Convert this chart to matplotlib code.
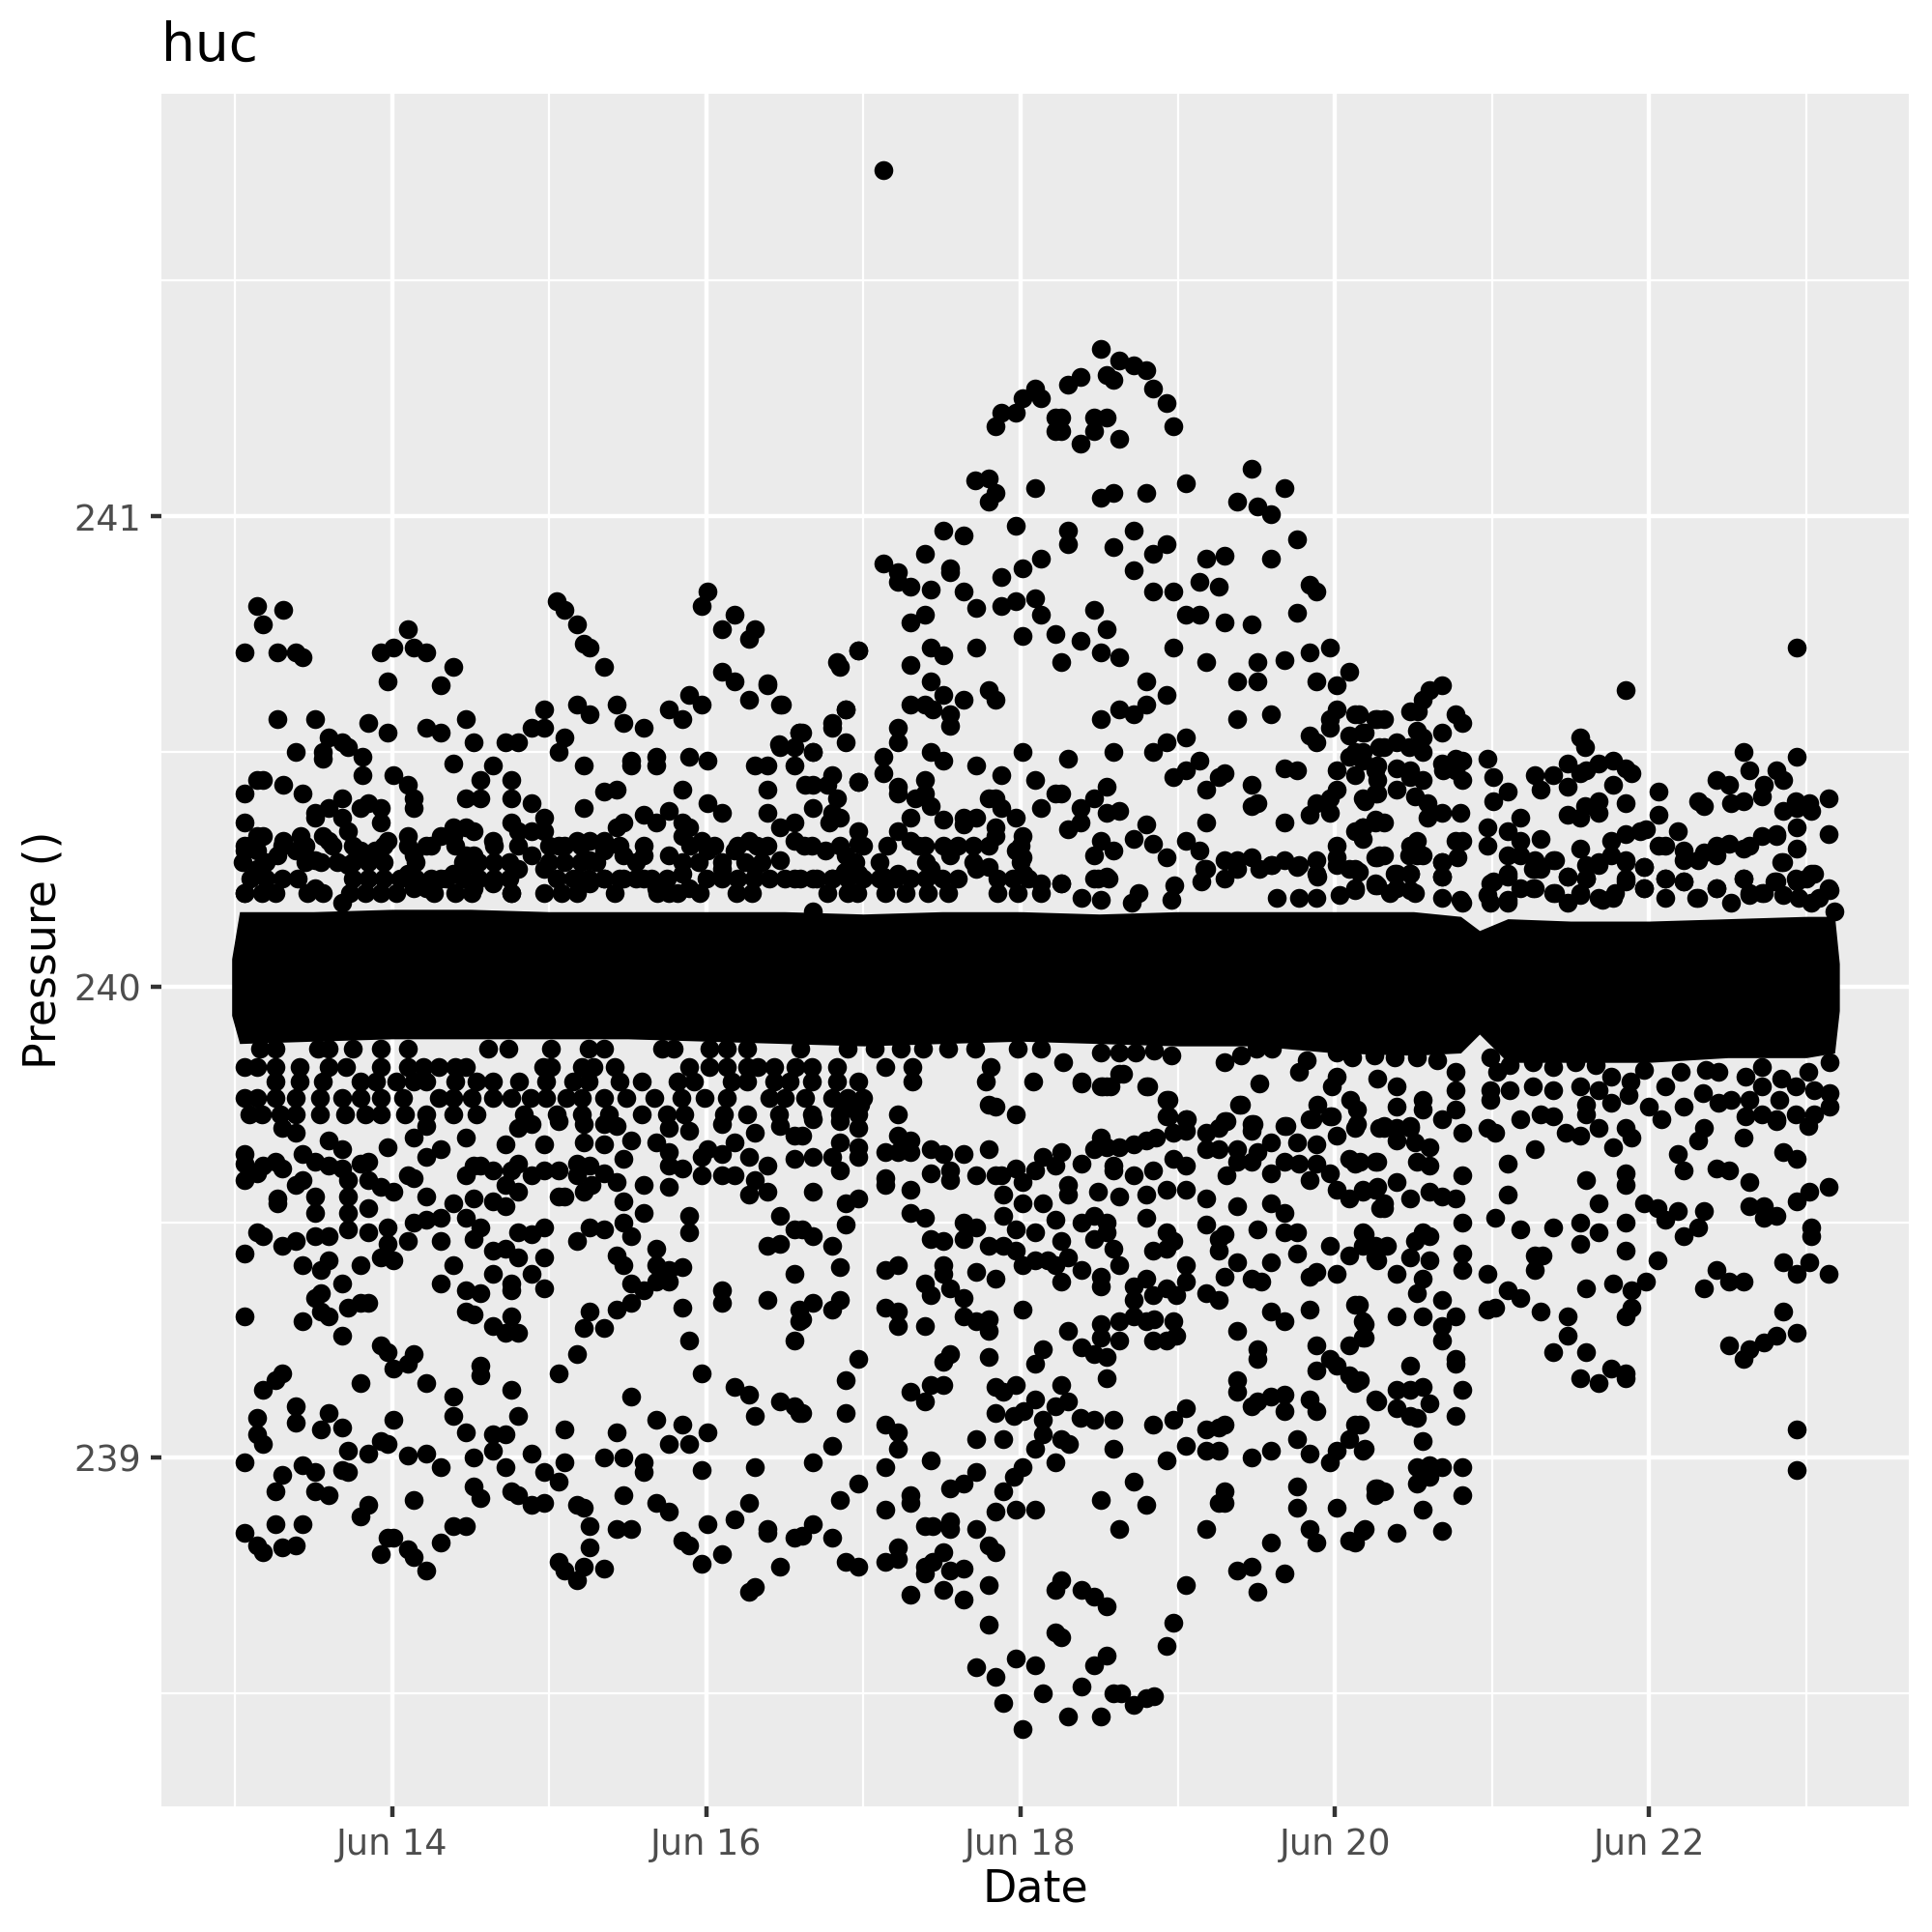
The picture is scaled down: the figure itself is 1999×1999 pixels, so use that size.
import numpy as np
from matplotlib import pyplot as plt

# values: (day of June, pressure)
upper_left = [(13.14,240.81),(13.31,240.80),(13.18,240.77),(13.06,240.71),(13.27,240.71),(13.39,240.71),(13.43,240.70),(14.10,240.76),(13.93,240.71),(14.01,240.72),(14.14,240.72),(14.22,240.71),(14.39,240.68),(13.97,240.65),(14.31,240.64),
(15.05,240.82),(15.10,240.80),(15.18,240.77),(15.22,240.73),(15.26,240.72),(15.35,240.68),(16.01,240.84),(15.97,240.81),(16.18,240.79),(16.10,240.76),(16.31,240.76),(16.27,240.74),(16.10,240.67),(16.18,240.65),(16.39,240.64),(16.27,240.61),(16.47,240.60),
(13.27,240.57),(13.51,240.57),(13.85,240.56),(13.97,240.54),(13.60,240.53),(13.68,240.52),(13.39,240.50),(13.72,240.51),(13.81,240.49),(13.56,240.50),(13.56,240.485),(14.22,240.55),(14.31,240.54),(14.47,240.57),(14.52,240.52),(14.72,240.52),(14.80,240.52),(14.89,240.55),(14.97,240.59),(14.97,240.55),(15.10,240.53),(15.06,240.50),
(15.18,240.60),(15.26,240.58),(15.43,240.60),(15.47,240.56),(15.60,240.55),(15.76,240.59),(15.85,240.57),(15.89,240.62),(15.97,240.60),(15.52,240.48),(15.52,240.47),(15.68,240.49),(15.68,240.47),(15.89,240.49),(16.01,240.48),(15.22,240.47),(16.31,240.47),(16.47,240.51),(16.56,240.51),(16.59,240.54),(16.56,240.47),(16.39,240.42),(15.85,240.42),(15.43,240.42),(15.35,240.415),(15.22,240.38),(16.01,240.39),(16.10,240.37),(16.39,240.37),
(14.39,240.475),(14.64,240.47),(14.56,240.44),(14.76,240.44),(14.01,240.45),(14.10,240.43),(13.81,240.45),(13.14,240.44),(13.18,240.44),(13.31,240.43),(13.43,240.41),(13.06,240.41),(14.14,240.40),(14.14,240.38),(14.47,240.40),(14.56,240.40),(14.89,240.39),(14.76,240.40),(13.06,240.35),
(13.68,240.40),(13.85,240.39),(13.93,240.38),(13.80,240.38),(13.60,240.38),(13.51,240.37),(13.51,240.36),(13.68,240.36),(13.72,240.33),(13.93,240.35),(13.42,240.32),(13.18,240.32),(13.14,240.32),(13.06,240.29),(13.14,240.29),(13.31,240.31),(13.27,240.28),(13.39,240.29),(13.51,240.27),(13.60,240.31),(13.56,240.32),(13.80,240.29),(13.89,240.29),(13.72,240.26),(13.97,240.31),(14.10,240.32),(14.22,240.30),(14.14,240.28),(14.31,240.32),(14.39,240.34),(14.47,240.34),(14.52,240.33),(14.39,240.32),(14.47,240.28),(14.52,240.28),(14.64,240.31),(14.76,240.35),(14.80,240.33),(14.89,240.33),(14.97,240.36),(14.97,240.33),(14.89,240.28),(15.06,240.30),(15.18,240.31),(15.26,240.31),(15.35,240.31),(15.47,240.35),(15.43,240.34),(15.60,240.365),(15.68,240.35),(15.76,240.375),(15.85,240.35),(15.89,240.34),(15.85,240.32),(15.97,240.31),(16.01,240.29),(15.76,240.28),(16.18,240.29),(16.27,240.31),(16.39,240.30),(16.47,240.27),(16.47,240.34),(16.56,240.35),(16.56,240.31),(14.97,240.25),(14.97,240.20),(15.26,240.27),(15.35,240.29),(15.47,240.28),(15.60,240.28),
(13.06,240.20),(13.14,240.25),(13.51,240.21),(13.56,240.20),(13.68,240.18),(14.10,240.24),(14.39,240.24),(14.31,240.23),(14.22,240.21),(14.14,240.21),(14.52,240.26),(14.52,240.21),(14.64,240.22),(14.80,240.25),(14.76,240.20),(15.35,240.23),(15.47,240.23),(15.60,240.23),(15.68,240.21),(15.76,240.20),(15.85,240.24),(15.89,240.21),(15.18,240.23),(15.26,240.22),(16.10,240.25),(16.31,240.255),(16.56,240.23),
(16.46,240.515),(16.39,240.645),(16.48,240.60),(16.83,240.69),(16.97,240.715),(16.89,240.59),(16.80,240.56),(16.59,240.54),(16.68,240.50),(16.97,240.435),(16.63,240.43),(16.77,240.43),(16.39,240.47),(16.83,240.40)]

upper_middle = [(17.13,241.735),(18.51,241.355),(18.63,241.33),(18.72,241.32),(18.80,241.31),(18.55,241.30),(18.59,241.29),(18.38,241.295),(18.30,241.28),(18.84,241.27),(18.93,241.24),(18.97,241.19),(18.09,241.27),(18.01,241.25),(18.13,241.25),(17.97,241.22),(17.88,241.22),(17.84,241.19),(18.22,241.21),(18.26,241.21),(18.22,241.18),(18.26,241.18),(18.47,241.21),(18.55,241.21),(18.47,241.18),(18.38,241.155),(18.63,241.165),
(19.05,241.07),(19.47,241.10),(19.68,241.06),(19.38,241.03),(19.51,241.02),(19.59,241.005),(17.71,241.075),(17.80,241.08),(17.84,241.05),(17.80,241.03),(18.09,241.06),(18.51,241.04),(18.59,241.05),(18.80,241.05),(17.97,240.98),(18.30,240.97),(18.30,240.94),(18.72,240.97),(18.59,240.935),(18.93,240.94),(18.84,240.92),(17.51,240.97),(17.64,240.96),(17.39,240.92),(17.13,240.90),(17.22,240.88),(17.22,240.86),(17.30,240.85),(17.43,240.845),(17.55,240.89),(17.55,240.88),(17.64,240.84),(17.72,240.805),(17.88,240.87),(18.01,240.89),(18.13,240.91),(18.72,240.885),(17.88,240.81),(17.97,240.82),(18.09,240.825),(18.13,240.79),(18.84,240.84),(18.97,240.84),(19.18,240.91),(19.30,240.915),(19.14,240.86),(19.26,240.85),(19.59,240.91),(19.76,240.95),(19.84,240.855),(19.88,240.84),(19.76,240.795),(19.05,240.79),(19.14,240.79),(19.30,240.775),(19.47,240.77),(18.47,240.80),(18.55,240.76),(17.39,240.79),(17.30,240.775),(18.01,240.745),(18.22,240.75),(18.38,240.735),(18.51,240.71),(18.63,240.70),(18.26,240.69),(17.72,240.72),(18.97,240.72),(17.43,240.72),(17.51,240.705),(17.30,240.685),(16.97,240.715),(16.85,240.68),(19.18,240.69),(19.51,240.69),(19.68,240.695),(19.84,240.71),(19.97,240.72),(19.38,240.65),(19.51,240.65),(19.88,240.65),(20.01,240.64),(20.09,240.67),(18.80,240.65),(18.93,240.62),(18.80,240.60),(18.63,240.59),(18.72,240.58),(18.51,240.57),
(17.43,240.65),(17.51,240.62),(17.64,240.61),(17.30,240.60),(17.39,240.60),(17.44,240.59),(17.55,240.58),(17.55,240.555),(17.80,240.63),(17.84,240.61),(16.89,240.59),(16.80,240.55),(16.89,240.52),(17.22,240.55),(17.22,240.52),(19.38,240.57),(19.59,240.58),(20.01,240.59),(19.97,240.57),(19.97,240.55),(19.84,240.535),(19.88,240.52),(20.13,240.58),(20.26,240.57),(19.05,240.53),(18.93,240.52),(18.84,240.50),(18.59,240.50),(18.01,240.50),(18.30,240.485),(17.43,240.50),(17.51,240.48),(17.72,240.47),(17.13,240.49),(17.13,240.455),(16.68,240.50),(16.61,240.54),
(19.14,240.48),(19.05,240.46),(18.97,240.445),(19.30,240.455),(19.26,240.445),(19.18,240.42),(19.68,240.465),(19.76,240.46),(19.47,240.43),(19.51,240.39),(19.47,240.385),(19.68,240.35),(19.18,240.35),(17.88,240.45),(18.09,240.44),(16.97,240.435),(16.80,240.45),(16.68,240.43),(17.39,240.44),(17.22,240.425),(17.22,240.41),(17.33,240.40),(17.39,240.41),(17.43,240.385),(18.22,240.41),(18.26,240.41),(18.55,240.425),(18.47,240.40),(18.38,240.38),(18.55,240.37),(18.63,240.375),(18.13,240.38),(18.38,240.35),(18.30,240.335),(18.80,240.345),(18.72,240.315),(18.84,240.305),(18.93,240.275),(19.05,240.31),(19.14,240.29),(18.51,240.31),(18.59,240.29),(18.47,240.28),
(17.80,240.40),(17.84,240.40),(17.88,240.38),(17.97,240.36),(17.64,240.36),(17.72,240.36),(17.64,240.345),(17.51,240.355),(17.30,240.36),(17.22,240.33),(17.30,240.31),(17.39,240.30),(17.51,240.30),(17.55,240.28),(17.84,240.34),(17.84,240.32),(17.80,240.30),(18.01,240.32),(17.97,240.29),(18.01,240.275),(17.80,240.255),(17.72,240.25),(17.43,240.25),(17.22,240.24),(17.13,240.235),(18.02,240.24),(18.13,240.22),(18.26,240.22),(18.47,240.23),(18.55,240.235),(19.30,240.27),(19.38,240.27),(19.47,240.275),(19.18,240.25),(19.59,240.26),(19.68,240.27),(19.76,240.255),(19.88,240.27),(20.01,240.275),(19.88,240.24),(20.09,240.25),(20.13,240.205),(20.01,240.30),(20.13,240.33),(20.18,240.34),(20.26,240.35),(20.26,240.275),(20.26,240.215),
(20.09,240.535),(20.18,240.54),(20.13,240.50),(20.09,240.49),(20.18,240.48),(20.28,240.51),(20.01,240.46),(20.13,240.45),(20.26,240.46),(20.01,240.42),(19.97,240.40),(19.88,240.39),(19.84,240.365),(19.97,240.37),(20.18,240.40),(20.26,240.41),(16.68,240.38),(16.80,240.37),(16.78,240.35),(16.85,240.36),(16.97,240.33),(16.97,240.305),(16.89,240.28),(16.76,240.29),(16.67,240.30),(16.88,240.245),(16.97,240.24),(16.68,240.23),(16.80,240.23),(16.96,240.20),(16.68,240.16)]

upper_right = [(22.94,240.72),(21.85,240.63),(20.68,240.64),(20.60,240.63),(20.56,240.61),(20.48,240.585),(20.53,240.585),(20.77,240.58),(20.81,240.56),(20.68,240.54),(20.15,240.58),(20.27,240.57),(20.31,240.57),(20.52,240.545),(20.56,240.53),(20.19,240.54),(20.31,240.51),(20.39,240.52),(20.47,240.51),(20.56,240.50),(20.18,240.50),(21.56,240.53),(21.59,240.51),(22.60,240.50),(22.94,240.49),(20.97,240.485),(20.77,240.485),(20.81,240.48),(20.68,240.475),(20.69,240.46),(20.77,240.46),(20.81,240.44),(20.39,240.465),(20.48,240.46),(20.27,240.47),(20.27,240.44),(20.48,240.445),(20.56,240.44),
(21.01,240.445),(21.10,240.415),(21.01,240.395),(21.27,240.45),(21.31,240.42),(21.39,240.45),(21.48,240.475),(21.48,240.425),(21.56,240.455),(21.60,240.46),(21.68,240.475),(21.77,240.48),(21.85,240.465),(21.89,240.455),(21.77,240.43),(21.85,240.39),(22.06,240.415),(22.06,240.365),(22.43,240.44),(22.51,240.43),(22.64,240.46),(22.73,240.43),(22.81,240.46),(22.85,240.44),(22.72,240.405),(22.31,240.395),(22.35,240.385),(22.52,240.39),(22.60,240.395),(22.93,240.395),(23.02,240.39),(23.14,240.40),(22.85,240.375),(22.94,240.38),(23.03,240.375),(22.94,240.34),(23.14,240.325),(22.94,240.295),(22.85,240.265),
(20.39,240.42),(20.51,240.405),(20.59,240.39),(20.59,240.36),(20.68,240.37),(20.80,240.37),(20.19,240.395),(20.27,240.41),(20.18,240.34),(20.26,240.355),(20.31,240.35),(20.18,240.315),(20.48,240.30),(20.52,240.31),(20.47,240.28),(20.56,240.28),(20.27,240.275),(20.31,240.28),(20.77,240.31),(20.81,240.31),(20.78,240.275),(20.68,240.265),(20.68,240.235),(20.15,240.245),(20.39,240.24),(20.48,240.24),(20.27,240.215),(20.39,240.21),(20.51,240.20),(20.68,240.19),(20.81,240.18),
(20.97,240.34),(20.97,240.30),(21.10,240.33),(21.18,240.36),(21.18,240.31),(21.31,240.315),(21.10,240.28),(21.18,240.28),(21.27,240.27),(21.39,240.27),(21.27,240.25),(21.31,240.25),(21.48,240.235),(21.48,240.365),(21.56,240.36),(21.59,240.385),(21.68,240.395),(21.68,240.37),(21.56,240.295),(21.60,240.26),(21.76,240.31),(21.85,240.325),(21.94,240.33),(21.98,240.335),(21.68,240.265),(21.76,240.28),(21.85,240.27),(21.97,240.255),(21.60,240.23),(21.85,240.225),(22.06,240.30),(22.10,240.30),(22.18,240.33),(22.22,240.29),(22.22,240.27),(22.31,240.27),(22.35,240.285),(22.43,240.30),(22.43,240.28),(22.51,240.305),(22.60,240.295),(22.64,240.30),(22.72,240.32),(22.81,240.325),(22.81,240.32),
(22.10,240.23),(22.22,240.225),(22.60,240.23),(22.43,240.21),(21.97,240.21),(21.01,240.225),(21.10,240.235),(20.97,240.195),(21.10,240.18),(21.18,240.21),(21.27,240.21),(21.39,240.20),(21.48,240.18),(21.56,240.195),(21.68,240.19),(21.77,240.19),(22.31,240.19),(22.64,240.195),(22.73,240.20),(22.81,240.225),(22.94,240.225),(23.03,240.24),(23.00,240.23),(23.14,240.21),(22.85,240.195),(23.03,240.18),(23.18,240.16)]

lower_left = [(13.06,239.30),(13.43,239.29),(13.06,239.435),(13.14,239.48),(13.18,239.47),(13.30,239.45),(13.39,239.46),(13.43,239.41),(13.60,239.42),(13.55,239.40),(13.80,239.41),(13.68,239.37),(13.55,239.35),(13.51,239.34),(13.55,239.31),(13.60,239.30),(13.72,239.32),(13.80,239.33),(13.85,239.33),(13.68,239.26),(13.93,239.24),(13.97,239.225),(14.14,239.22),(14.10,239.20),(14.01,239.19),(13.80,239.16),(13.30,239.18),(13.26,239.165),(13.18,239.145),(13.39,239.11),(13.39,239.075),(13.14,239.085),(13.14,239.05),(13.18,239.03),(13.60,239.095),(13.55,239.06),(13.68,239.065),(14.01,239.08),(13.93,239.035),(13.97,239.03),(13.72,239.015),(13.85,239.01),(14.10,239.005),(14.22,239.01),(14.31,238.98),(13.06,238.99),(13.43,238.985),(13.51,238.97),(13.30,238.965),(13.26,238.93),(13.68,238.975),(13.72,238.97),(13.51,238.93),(13.60,238.92),(13.85,238.90),(13.80,238.875),(14.14,238.91),
(14.22,239.16),(14.39,239.13),(14.39,239.09),(14.56,239.195),(14.56,239.175),(14.76,239.145),(14.80,239.09),(14.47,239.055),(14.64,239.05),(14.72,239.05),(14.64,239.015),(14.52,239.00),(14.89,239.01),(14.72,238.98),(14.97,238.97),(15.06,238.95),(15.10,239.06),(15.10,238.99),(15.06,239.18),(15.18,239.22),(14.52,238.94),(14.56,238.915),(14.76,238.93),(14.80,238.92),(14.89,238.90),(14.97,238.905),(15.18,238.90),(15.22,238.895),(13.26,238.86),(13.43,238.86),(13.06,238.84),(13.14,238.815),(13.18,238.80),(13.30,238.81),(13.39,238.815),(13.97,238.83),(14.01,238.83),(13.93,238.795),(14.10,238.805),(14.14,238.79),(14.22,238.76),(14.31,238.82),(14.39,238.855),(14.47,238.855),(15.06,238.78),(15.10,238.76),(15.18,238.74),(15.22,238.77),(15.35,238.765),(15.26,238.81),(15.26,238.855),(15.43,238.85),(15.52,238.85),(15.47,238.92),(15.35,239.00),(15.47,239.00),(15.60,238.99),(15.60,238.97),(15.68,238.905),(15.76,238.885),(15.43,239.055),(15.52,239.13),(15.68,239.08),(15.85,239.07),(15.76,239.03),(15.89,239.03),(16.01,239.055),(15.97,238.975),(15.97,239.18),(16.18,239.15),(16.27,239.135),(16.31,239.09),(16.31,238.98),(16.47,239.12),(16.56,239.11),(16.59,239.095),(16.27,238.905),(16.18,238.87),(16.01,238.86),(15.85,238.825),(15.89,238.815),(16.10,238.795),(15.97,238.775),(16.39,238.85),(16.39,238.84),(16.47,238.77),(16.56,238.83),(16.31,238.725),(16.27,238.715),
(13.97,239.49),(13.85,239.48),(13.72,239.485),(13.51,239.47),(13.60,239.47),(13.97,239.455),(14.10,239.46),(14.31,239.46),(13.93,239.425),(14.01,239.42),(14.39,239.41),(14.31,239.37),(14.14,239.50),(14.22,239.505),(14.31,239.51),(14.47,239.51),(14.56,239.49),(14.52,239.465),(14.64,239.44),(14.72,239.445),(14.80,239.425),(14.97,239.425),(14.80,239.48),(14.89,239.475),(14.97,239.49),(14.64,239.39),(14.76,239.37),(14.76,239.355),(14.89,239.39),(14.97,239.36),(14.47,239.355),(14.56,239.35),(14.47,239.31),(14.52,239.305),(14.64,239.28),(14.76,239.30),(14.72,239.265),(14.80,239.265),(15.26,239.31),(15.22,239.275),(15.35,239.275),(15.18,239.46),(15.26,239.49),(15.35,239.485),(15.47,239.50),(15.52,239.47),(15.43,239.43),(15.47,239.41),(15.68,239.445),(15.68,239.41),(15.76,239.40),(15.85,239.405),(15.76,239.375),(15.68,239.375),(15.52,239.37),(15.60,239.355),(15.52,239.33),(15.43,239.315),(15.85,239.32),(15.89,239.25),(16.10,239.355),(16.10,239.33),(16.39,239.335),(16.56,239.39),(16.59,239.315),(16.59,239.29),(16.56,239.25),(15.89,239.515),(15.89,239.48),(15.60,239.52),(16.47,239.515),(16.56,239.485),(16.39,239.45),(16.47,239.455),
(13.06,239.645),(13.06,239.625),(13.06,239.59),(13.18,239.62),(13.26,239.63),(13.30,239.615),(13.14,239.605),(13.39,239.58),(13.43,239.59),(13.43,239.645),(13.51,239.63),(13.60,239.675),(13.68,239.655),(13.60,239.62),(13.68,239.615),(13.72,239.59),(13.80,239.625),(13.85,239.63),(13.85,239.59),(13.93,239.575),(14.01,239.565),(14.22,239.64),(14.31,239.655),(14.10,239.60),(14.14,239.595),(14.22,239.555),(13.27,239.55),(13.27,239.54),(13.51,239.555),(13.51,239.52),(13.72,239.555),(13.72,239.52),(13.85,239.53),(14.39,239.54),(14.52,239.55),(14.64,239.545),(14.72,239.535),(14.80,239.565),(14.72,239.58),(14.47,239.60),(14.52,239.62),(14.56,239.62),(14.64,239.61),(14.76,239.61),(14.80,239.625),(14.89,239.60),(14.97,239.61),(15.06,239.61),(15.18,239.625),(15.26,239.62),(15.35,239.605),(15.43,239.585),(15.47,239.545),(15.06,239.555),(15.10,239.555),(15.22,239.565),(15.27,239.58),(15.18,239.60),(15.60,239.58),(15.76,239.575),
(13.97,239.66),(14.14,239.68),(14.47,239.68),(14.72,239.665),(14.97,239.665),(15.22,239.67),(15.35,239.665),(15.47,239.635),(15.52,239.675),(15.68,239.67),(15.76,239.65),(15.76,239.62),(15.85,239.615),(16.01,239.655),(15.97,239.64),(16.10,239.645),(15.97,239.60),(16.10,239.60),(16.18,239.60),(16.18,239.67),(16.27,239.64),(16.39,239.62),(16.31,239.59),(16.27,239.56),(16.39,239.565),(16.56,239.635),(16.56,239.685),(13.30,239.70),(13.39,239.69),(14.22,239.705),(14.80,239.70),(14.89,239.71),(15.06,239.715),(15.22,239.71),(15.35,239.71),(15.43,239.705),(15.76,239.70),(15.89,239.695),(16.10,239.71),(16.31,239.69),(16.47,239.705)]

lower_middle = [(18.01,238.425),(18.30,238.45),(18.51,238.45),(17.89,238.48),(18.14,238.50),(18.39,238.515),(18.59,238.50),(18.64,238.50),(18.72,238.475),(18.80,238.49),(18.85,238.495),(17.72,238.555),(17.84,238.535),(17.97,238.575),(18.09,238.56),(18.47,238.56),(18.55,238.58),(18.93,238.60),(18.97,238.65),(17.80,238.645),(18.22,238.63),(18.26,238.62),(18.22,238.72),(18.26,238.74),(18.39,238.72),(18.47,238.705),(18.55,238.685),(19.05,238.73),(17.30,238.71),(17.51,238.72),(17.64,238.70),(17.80,238.73),(16.89,238.78),(16.97,238.77),(17.14,238.78),(17.22,238.785),(17.22,238.81),(17.39,238.77),(17.39,238.755),(17.44,238.78),(17.51,238.80),(17.55,238.76),(17.64,238.765),(17.80,238.815),(17.84,238.80),(16.80,238.83),(16.68,238.86),(16.61,238.835),(18.63,238.85),(19.18,238.85),(19.38,238.76),(19.47,238.77),(19.68,238.755),(19.51,238.715),(19.59,238.82),(19.84,238.85),(19.88,238.82),(20.09,238.825),(20.13,238.82),(20.18,238.845),(17.39,238.855),(17.44,238.855),(17.55,238.865),(17.55,238.85),(17.72,238.85),
(17.14,238.89),(17.30,238.92),(17.30,238.905),(16.85,238.91),(16.97,238.945),(17.55,238.935),(17.64,238.945),(17.72,238.97),(17.89,238.93),(17.84,238.885),(17.97,238.89),(18.09,238.89),(17.96,238.96),(18.01,238.98),(18.51,238.91),(18.72,238.95),(18.80,238.90),(19.26,238.905),(19.30,238.93),(19.30,238.905),(19.76,238.94),(19.76,238.895),(20.01,238.895),(20.26,238.935),(20.26,238.92),(16.68,238.99),(16.80,239.025),(17.14,238.98),(17.43,238.995),(17.22,239.02),(17.22,239.055),(17.14,239.07),(16.89,239.095),(16.89,239.165),(16.97,239.21),(16.61,239.095),(17.30,239.14),(17.39,239.12),(17.43,239.155),(17.51,239.155),(17.51,239.205),(17.55,239.22),(17.80,239.215),(17.72,239.04),(17.89,239.04),(18.09,239.02),(18.22,238.99),(18.59,239.02),(18.93,238.995),(19.05,239.025),(19.18,239.015),(19.26,239.015),(19.47,239.0),(19.59,239.015),(19.84,239.01),(19.97,238.99),(20.01,239.015),(20.09,239.04),(20.18,239.015),(19.76,239.04),(20.13,239.07),
(18.26,239.04),(18.31,239.03),(18.14,239.05),(18.14,239.08),(17.84,239.095),(17.96,239.09),(18.02,239.10),(18.09,239.125),(18.22,239.11),(18.30,239.12),(18.38,239.085),(18.47,239.08),(18.59,239.08),(18.84,239.07),(18.97,239.08),(19.05,239.105),(19.18,239.06),(19.26,239.065),(19.30,239.07),(19.47,239.11),(19.51,239.12),(19.59,239.13),(19.68,239.135),(19.68,239.10),(19.84,239.125),(19.88,239.10),(20.26,239.125),(19.38,239.165),(19.38,239.14),(17.84,239.15),(17.89,239.14),(17.97,239.155),(18.26,239.155),(18.55,239.17),(18.14,239.23),(18.09,239.20),(18.39,239.235),(18.47,239.22),(18.55,239.215),(18.63,239.25),(18.51,239.285),(18.51,239.255),(18.30,239.27),(18.63,239.29),(18.72,239.30),(18.80,239.29),(18.85,239.295),(18.97,239.29),(18.84,239.25),(18.93,239.25),(18.99,239.26),(19.38,239.27),(19.51,239.23),(19.51,239.21),(19.88,239.24),(19.88,239.185),(19.97,239.21),(20.01,239.195),(20.09,239.175),(20.13,239.16),(20.09,239.24),(20.18,239.255),(20.18,239.29),(20.13,239.325),(19.84,239.315),(19.59,239.31),(19.68,239.29),(19.18,239.35),(19.26,239.335),(18.01,239.315),(17.64,239.30),(17.72,239.29),(17.80,239.295),(17.80,239.27),(17.39,239.28),(17.22,239.28),(17.22,239.31),(17.14,239.32),(16.85,239.335),(16.80,239.315),(16.68,239.33),(16.61,239.295),
(17.39,239.37),(17.43,239.345),(17.55,239.36),(17.64,239.34),(17.51,239.41),(17.51,239.39),(17.14,239.40),(17.22,239.41),(17.72,239.395),(17.84,239.38),(16.85,239.405),(16.80,239.45),(16.68,239.47),(16.61,239.485),(16.89,239.495),(17.43,239.465),(17.51,239.46),(17.64,239.465),(17.64,239.50),(17.72,239.49),(17.80,239.45),(17.89,239.45),(17.97,239.44),(18.01,239.41),(18.09,239.42),(18.17,239.42),(18.22,239.41),(18.30,239.425),(18.39,239.40),(18.26,239.375),(18.51,239.385),(18.51,239.365),(18.26,239.46),(17.97,239.485),(18.09,239.48),(18.22,239.505),(18.39,239.50),(18.47,239.515),(18.55,239.50),(18.55,239.48),(18.47,239.465),(18.59,239.445),(18.63,239.41),(18.80,239.51),(18.93,239.48),(18.97,239.46),(18.84,239.44),(18.93,239.445),(19.05,239.41),(19.05,239.375),(18.80,239.38),(18.72,239.365),(18.72,239.335),(18.84,239.345),(18.93,239.36),(18.99,239.345),(19.18,239.495),(19.26,239.44),(19.26,239.465),(19.30,239.475),(19.38,239.415),(19.30,239.385),(19.47,239.38),(19.53,239.375),(19.59,239.415),(19.51,239.485),(19.68,239.48),(19.76,239.48),(19.76,239.435),(19.97,239.45),(19.84,239.385),(19.88,239.395),(20.01,239.39),(20.09,239.43),(20.18,239.48),(20.18,239.45),(20.26,239.425),
(17.30,239.52),(17.39,239.51),(17.89,239.515),(18.01,239.54),(18.14,239.54),(19.18,239.55),(19.38,239.535),(19.59,239.54),(19.68,239.52),(18.80,239.56),(18.63,239.555),(18.93,239.57),(19.05,239.57),(18.49,239.565),(18.30,239.58),(18.30,239.56),(17.89,239.56),(18.01,239.585),(17.84,239.60),(17.72,239.60),(17.30,239.57),(17.43,239.605),(17.55,239.61),(17.55,239.59),(17.14,239.595),(17.14,239.58),(16.97,239.55),(16.89,239.54),(16.68,239.565),(16.85,239.61),(16.80,239.64),(16.68,239.64),(16.97,239.66),(16.97,239.64),(16.85,239.67),(16.97,239.70),(16.61,239.685),(16.68,239.72),(16.85,239.715),(16.88,239.75),(16.98,239.75),(17.14,239.65),(17.22,239.65),(17.22,239.685),(17.30,239.675),(17.30,239.65),(17.43,239.655),(17.51,239.645),(17.64,239.645),(17.80,239.655),
(17.80,239.75),(17.84,239.745),(17.97,239.73),(18.39,239.795),(18.51,239.79),(18.55,239.79),(18.63,239.815),(18.80,239.79),(18.93,239.76),(18.93,239.725),(19.05,239.72),(18.97,239.69),(19.05,239.695),(19.18,239.69),(19.30,239.715),(19.26,239.70),(19.18,239.655),(19.26,239.655),(19.38,239.655),(19.38,239.63),(19.47,239.71),(19.47,239.695),(19.39,239.75),(19.68,239.705),(19.59,239.67),(19.47,239.63),(19.51,239.65),(19.76,239.67),(19.88,239.665),(19.68,239.63),(19.77,239.625),(19.59,239.605),(19.31,239.60),(18.97,239.635),(19.05,239.62),(18.84,239.61),(18.72,239.60),(18.59,239.62),(18.59,239.61),(18.39,239.625),(18.26,239.65),(18.14,239.64),(18.22,239.62),(18.09,239.61),(17.97,239.615),(17.88,239.60),(18.51,239.68),(18.47,239.655),(18.55,239.66),(18.63,239.66),(18.72,239.665),(18.80,239.675),(18.86,239.68),
(19.97,239.725),(19.84,239.72),(20.13,239.70),(20.01,239.685),(20.28,239.70),(20.09,239.635),(20.13,239.625),(19.88,239.625),(19.84,239.59),(19.97,239.605),(20.01,239.57),(20.09,239.55),(20.18,239.57),(20.26,239.57),(20.26,239.63),(20.29,239.53)]

lower_right = [(20.39,239.675),(20.51,239.67),(20.60,239.66),(20.52,239.63),(20.60,239.62),(20.27,239.63),(20.16,239.63),(20.81,239.60),(20.39,239.585),(20.27,239.575),(20.18,239.565),(20.48,239.55),(20.60,239.565),(20.68,239.555),(20.77,239.55),(20.31,239.54),(20.31,239.53),(20.81,239.50),(20.19,239.475),(20.26,239.45),(20.33,239.45),(20.27,239.42),(20.48,239.425),(20.51,239.46),(20.56,239.48),(20.60,239.47),(20.60,239.42),(20.81,239.435),(20.81,239.40),(20.39,239.39),(20.56,239.38),(20.52,239.35),(20.68,239.335),(20.15,239.325),(20.19,239.285),(20.19,239.255),(20.39,239.30),(20.56,239.30),(20.77,239.30),(20.68,239.28),(20.68,239.25),(20.77,239.21),(20.77,239.20),(20.48,239.195),(20.16,239.165),(20.81,239.145),(20.39,239.145),(20.48,239.145),(20.56,239.15),(20.27,239.12),(20.39,239.105),(20.48,239.09),(20.52,239.085),(20.60,239.115),(20.77,239.09),(20.16,239.07),(20.56,239.035),(20.19,239.02),(20.68,238.98),(20.81,238.98),(20.52,238.98),(20.60,238.985),(20.60,238.96),(20.52,238.945),(20.27,238.935),(20.31,238.93),(20.81,238.92),(20.56,238.89),(20.19,238.85),(20.39,238.84),(20.68,238.845),
(21.47,239.69),(21.56,239.685),(21.89,239.68),(21.77,239.66),(21.27,239.655),(21.10,239.625),(21.10,239.56),(21.02,239.51),(21.18,239.485),(21.39,239.49),(21.56,239.50),(21.68,239.54),(21.68,239.48),(21.60,239.59),(21.85,239.605),(21.85,239.58),(21.85,239.50),(21.56,239.455),(21.85,239.44),(21.97,239.54),(22.05,239.53),(22.10,239.505),(22.18,239.525),(22.35,239.525),(22.31,239.49),(22.22,239.47),(22.05,239.42),(22.18,239.645),(22.22,239.61),(22.43,239.615),(22.51,239.61),(22.64,239.585),(22.85,239.65),(22.94,239.635),(22.64,239.535),(22.73,239.535),(22.73,239.51),(22.81,239.515),(22.94,239.545),(23.02,239.565),(23.14,239.575),(23.03,239.49),(23.03,239.47),(22.31,239.675),(22.60,239.68),
(21.27,239.43),(21.32,239.43),(21.27,239.40),(20.97,239.39),(21.10,239.355),(21.18,239.34),(20.97,239.315),(21.02,239.32),(21.31,239.31),(21.48,239.30),(21.48,239.26),(21.39,239.225),(21.60,239.36),(21.77,239.37),(21.98,239.375),(21.89,239.355),(21.89,239.32),(21.85,239.30),(21.60,239.225),(21.76,239.19),(21.85,239.18),(21.85,239.17),(21.56,239.17),(21.68,239.16),(22.43,239.40),(22.51,239.375),(22.60,239.375),(22.35,239.36),(22.85,239.415),(22.94,239.39),(23.02,239.415),(23.14,239.39),(22.85,239.31),(22.94,239.265),(22.81,239.26),(22.73,239.245),(22.64,239.23),(22.60,239.21),(22.51,239.24),(22.94,239.06),(22.94,238.975)]

# rows of points just above and below the solid band, left part
row_24030 = [13.06,13.1,13.3,13.45,13.62,13.75,13.95,14.1,14.25,14.4,14.65,14.8,15.0,15.1,15.2,15.35,15.45,15.6,15.9,16.05,16.2,16.32,16.62,16.85,17.0,17.15,17.35,17.6,17.7,18.0]
row_240265 = [13.05,13.2,13.45,13.55,13.65,13.75,13.85,13.95,14.15,14.45,14.55,14.65,14.75,15.0,15.1,15.2,15.3,15.55,15.85,15.95,16.1,16.25,16.35,16.95,17.1,17.4,17.7,18.0]
row_24023 = [13.1,13.2,13.3,13.4,13.75,13.85,13.95,14.05,14.15,14.25,14.35,14.45,14.55,14.65,14.75,15.05,15.15,15.25,15.35,15.45,15.55,15.65,15.75,16.0,16.1,16.2,16.3,16.4,16.5,16.6,16.7,16.8,16.9,17.0,17.1,17.2,17.3,17.4,17.5,17.6,17.85,17.95,18.05]
row_24020 = [13.06,13.17,13.26,13.46,13.73,13.83,13.93,14.03,14.27,14.40,14.51,14.76,15.08,15.18,15.42,15.69,15.82,15.96,16.19,16.29,16.77,16.90,17.14,17.27,17.41,17.54,17.85,17.98,18.13]
row_23987 = [13.16,13.26,13.53,13.6,13.75,13.93,14.1,14.61,14.74,15.01,15.25,15.35,15.72,15.79,16.02,16.13,16.26,16.6,16.9,17.07,17.24,17.38,17.54,17.71,17.98,18.13]
row_23983 = [13.06,13.14,13.26,13.41,13.6,13.71,13.93,14.1,14.2,14.3,14.4,14.47,14.96,15.01,15.21,15.28,15.42,15.89,16.02,16.13,16.26,16.33,16.43,16.57,16.67,16.83,17.14,17.31,17.81]
row_23980 = [13.26,13.41,13.56,13.8,13.9,14.03,14.14,14.22,14.4,14.54,14.64,14.81,14.98,15.15,15.25,15.45,15.59,15.82,15.92,16.16,16.26,16.43,16.53,16.67,16.83,16.97,17.31,17.78,18.08]
row_239765 = [13.06,13.14,13.26,13.39,13.54,13.68,13.8,13.93,14.07,14.3,14.39,14.51,14.64,14.76,14.88,14.98,15.11,15.21,15.35,15.49,15.67,15.84,15.99,16.13,16.4,16.5,16.63,16.8,16.9,17.0]
row_23973 = [13.09,13.17,13.29,13.39,13.54,13.7,13.83,13.93,14.08,14.22,14.39,14.54,14.84,15.05,15.21,15.38,15.59,15.75,15.86,16.11,16.26,16.46,16.67,16.85,16.97,17.22]
row_pressures = [240.30, 240.265, 240.23, 240.20, 239.87, 239.83, 239.80, 239.765, 239.73]

near_band_right = [(18.26,240.22),(18.39,240.19),(18.49,240.23),(18.56,240.23),(18.51,240.185),(18.75,240.20),(18.71,240.18),(18.98,240.215),(18.96,240.185),(19.15,240.225),(19.17,240.25),(19.30,240.23),(19.38,240.25),(19.52,240.25),(19.6,240.26),(19.77,240.26),(19.89,240.235),(20.01,240.26),(20.13,240.25),(20.13,240.21),(19.63,240.19),(19.77,240.19),(19.88,240.19),(20.03,240.195),(20.28,240.28),(20.26,240.22),(20.38,240.24),(20.48,240.24),(20.35,240.2),(20.48,240.205),(20.68,240.235),(20.68,240.265),(20.52,240.28),(20.8,240.185),(20.99,240.22),(21.1,240.24),(20.99,240.18),(21.1,240.185),(21.26,240.21),(21.4,240.2),(21.26,240.25),(21.48,240.235),(21.4,240.27),(21.6,240.23),(21.56,240.2),(21.7,240.185),(21.78,240.2),(21.85,240.23),(21.97,240.255),(21.97,240.21),(22.1,240.23),(22.22,240.225),(22.1,240.19),(22.3,240.19),(22.43,240.21),(22.52,240.18),(22.6,240.23),(22.64,240.2),(22.72,240.2),(22.8,240.225),(22.93,240.23),(23.05,240.24),(23.15,240.205),(22.95,240.19),(23.08,240.19),(22.84,240.265),(21.68,240.26),(21.85,240.265),
(18.27,239.84),(18.51,239.86),(18.63,239.86),(18.73,239.86),(18.85,239.865),(18.96,239.855),(19.3,239.84),(19.4,239.855),(19.5,239.87),(19.6,239.87),(19.82,239.845),(19.77,239.82),(20.01,239.86),(20.11,239.85),(20.25,239.855),(20.38,239.85),(20.52,239.85),(20.65,239.845),(20.77,239.82),(18.65,239.815),(18.39,239.80),(18.52,239.79),(18.57,239.79),(18.81,239.79),(19.52,239.795),(20.01,239.81),(19.98,239.79),(20.27,239.805),(20.39,239.79),(18.94,239.76),(18.94,239.725),(19.06,239.72),(19.4,239.75),(19.31,239.715),(19.48,239.71),(19.89,239.75),(19.98,239.725),(19.86,239.72),(19.69,239.705),(20.1,239.76),(20.14,239.74),(20.14,239.71),(20.39,239.745),(20.31,239.705),(20.48,239.705),(20.56,239.76),(20.56,239.74),(20.77,239.78),(20.77,239.74),(20.68,239.72),
(20.99,239.85),(21.03,239.82),(21.11,239.835),(21.26,239.84),(21.39,239.83),(21.53,239.84),(21.66,239.835),(21.76,239.81),(21.97,239.825),(21.88,239.80),(22.1,239.79),(22.2,239.82),(22.36,239.825),(22.44,239.82),(22.61,239.81),(22.72,239.83),(23.01,239.82),(23.15,239.84),(22.84,239.805),(20.99,239.78),(20.99,239.76),(21.11,239.78),(21.26,239.79),(21.39,239.78),(21.56,239.79),(21.68,239.78),(21.76,239.755),(21.87,239.77),(21.6,239.75),(21.6,239.73),(22.0,239.745),(22.08,239.72),(22.22,239.745),(22.34,239.775),(22.44,239.755),(22.52,239.76),(22.64,239.76),(22.72,239.79),(22.83,239.76),(22.93,239.79),(23.05,239.78),(23.15,239.775),(23.15,239.745),(23.05,239.73),(22.93,239.73),(22.72,239.73),(22.61,239.725),(22.81,239.72),(21.18,239.72),(21.31,239.73),(21.39,239.725),(21.68,239.70),(21.85,239.70),(22.35,239.70),(20.97,239.70),(21.02,239.69),(22.81,239.715),(23.01,239.705),(20.81,239.69),(20.31,239.70),(20.39,239.70),(20.48,239.70)]

# solid overplotted band around 240: envelope of the points
band_days = [12.98,13.03,13.5,14,14.5,15,15.5,16,16.5,17,17.5,18,18.5,19,19.5,20,20.5,20.8,20.92,21.1,21.5,22,22.5,23,23.18,23.21]
band_high = [240.06,240.16,240.16,240.165,240.165,240.16,240.16,240.16,240.16,240.155,240.16,240.16,240.155,240.16,240.16,240.16,240.16,240.15,240.12,240.145,240.14,240.14,240.145,240.15,240.15,240.05]
band_low = [239.94,239.88,239.885,239.89,239.89,239.89,239.89,239.885,239.88,239.875,239.88,239.885,239.88,239.875,239.875,239.86,239.855,239.86,239.90,239.84,239.84,239.84,239.85,239.85,239.86,239.95]

x_ticks = [14, 16, 18, 20, 22]
x_labels = ['Jun 14', 'Jun 16', 'Jun 18', 'Jun 20', 'Jun 22']
x_minor = [13, 15, 17, 19, 21, 23]
y_ticks = [239, 240, 241]
y_minor = [238.5, 239.5, 240.5, 241.5]

fig = plt.figure(figsize=(19.99 / 3, 19.99 / 3), dpi=300)
ax = fig.add_axes([167 / 1999, 1 - 1869 / 1999, (1975 - 167) / 1999, (1869 - 97) / 1999])
ax.set_facecolor('#EBEBEB')
for s in ax.spines.values():
    s.set_visible(False)

ax.set_xticks(x_ticks)
ax.set_xticklabels(x_labels)
ax.set_xticks(x_minor, minor=True)
ax.set_yticks(y_ticks)
ax.set_yticks(y_minor, minor=True)
ax.grid(which='major', color='white', linewidth=1.07)
ax.grid(which='minor', color='white', linewidth=0.53)
ax.set_axisbelow(True)
ax.tick_params(which='major', length=2.75, width=1.07, color='#333333', labelcolor='#4D4D4D', labelsize=8.8, pad=2.2)
ax.tick_params(which='minor', length=0)

ax.fill_between(band_days, band_low, band_high, color='black', linewidth=0, zorder=3)
for part in [upper_left, upper_middle, upper_right, lower_left, lower_middle, lower_right, near_band_right]:
    pts = np.array(part)
    ax.scatter(pts[:, 0], pts[:, 1], s=22, color='black', linewidths=0, zorder=3)

rows = [row_24030, row_240265, row_24023, row_24020, row_23987, row_23983, row_23980, row_239765, row_23973]
for days, p in zip(rows, row_pressures):
    ax.scatter(days, [p] * len(days), s=22, color='black', linewidths=0, zorder=3)

ax.set_xlim(12.533, 23.652)
ax.set_ylim(238.26, 241.897)

ax.set_xlabel('Date', fontsize=11, labelpad=1.4)
ax.set_ylabel('Pressure ()', fontsize=11, labelpad=2.2)
ax.set_title('huc', fontsize=13.2, loc='left', pad=8.2)

fig.savefig('out.png', dpi=300, facecolor='white')
